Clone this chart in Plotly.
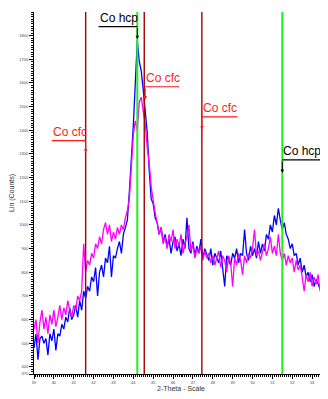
import numpy as np
import plotly.graph_objects as go

start_2theta = 39.0
step_2theta = 0.1

blue_counts = [
    480, 540, 430, 520, 530, 500, 520, 450, 540, 510,
    560, 470, 540, 530, 580, 560, 610, 590, 650, 600,
    620, 660, 610, 680, 640, 720, 690, 740, 720, 780,
    760, 820, 700, 800, 830, 780, 860, 840, 910, 780,
    870, 860, 900, 930, 880, 960, 990, 1020, 1140, 1260,
    1420, 1600, 1780, 1690, 1650, 1570, 1480, 1390, 1230, 1110,
    1090, 1030, 1010, 960, 990, 930, 960, 910, 940, 880,
    930, 950, 890, 920, 870, 940, 900, 1030, 900, 880,
    930, 870, 910, 880, 940, 860, 900, 870, 850, 900,
    830, 880, 860, 840, 890, 820, 740, 870, 850, 830,
    880, 860, 900, 840, 880, 870, 980, 880, 850, 910,
    870, 900, 860, 930, 880, 920, 890, 960, 940, 1000,
    970, 1040, 1000, 1070, 1020, 980, 1010, 960, 940, 900,
    920, 870, 880, 830, 860, 800, 830, 780, 800, 760,
    790, 740, 770, 750, 730, 760, 790, 750,
]

magenta_counts = [
    560, 600, 500, 590, 640, 560, 610, 540, 620, 580,
    640, 570, 610, 660, 600, 650, 620, 680, 640, 610,
    660, 640, 700, 680, 720, 920, 800, 850, 830, 880,
    860, 920, 900, 950, 920, 980, 1010, 960, 1000, 930,
    970, 940, 990, 960, 1000, 980, 1030, 1060, 1110, 1270,
    1380, 1440, 1400, 1520, 1540, 1480, 1430, 1330, 1260, 1160,
    1100, 1050, 1010, 960, 990, 920, 950, 900, 960, 930,
    980, 900, 940, 910, 960, 880, 920, 950, 1000, 890,
    920, 860, 900, 880, 910, 850, 890, 860, 880, 840,
    870, 830, 860, 890, 820, 870, 850, 800, 870, 840,
    740, 860, 830, 880, 850, 790, 870, 840, 880, 860,
    900, 980, 870, 890, 850, 880, 920, 870, 900, 950,
    880, 910, 870, 960, 880, 850, 880, 830, 870, 840,
    860, 800, 850, 810, 830, 780, 720, 790, 760, 800,
    740, 780, 750, 790, 720, 770, 700, 780,
]

y_tick_vals = [370, 400, 500, 600, 700, 800, 900, 1000, 1100, 1200,
               1300, 1400, 1500, 1600, 1700, 1800]
x_tick_vals = list(range(39, 54))

red_lines = [41.6, 44.55, 47.45]
green_lines = [44.2, 51.5]

# annotations: (text, colour, underline_left, underline_right, underline_y, drop_x, tip_y)
labels = [
    ("Co hcp", "black", 42.25, 44.2, 1838, 44.2, 1785),
    ("Co cfc", "#ff1a1a", 44.6, 46.3, 1584, 44.6, 1530),
    ("Co cfc", "#ff1a1a", 47.45, 49.25, 1457, 47.45, 1402),
    ("Co cfc", "#ff1a1a", 39.9, 41.6, 1356, 41.6, 1305),
    ("Co hcp", "black", 51.5, 53.5, 1275, 51.5, 1220),
]

x_vals = start_2theta + step_2theta * np.arange(len(blue_counts))
x_mag = start_2theta + step_2theta * np.arange(len(magenta_counts))

fig = go.Figure()
fig.add_trace(go.Scatter(x=x_vals, y=blue_counts, mode="lines",
                         line=dict(color="#0000ff", width=1.3), showlegend=False))
fig.add_trace(go.Scatter(x=x_mag, y=magenta_counts, mode="lines",
                         line=dict(color="#ff00ff", width=1.3), showlegend=False))

shapes = []
for xv in red_lines:
    shapes.append(dict(type="line", xref="x", yref="paper", x0=xv, x1=xv, y0=0, y1=1,
                       line=dict(color="#a50000", width=1.4), layer="above"))
for xv in green_lines:
    shapes.append(dict(type="line", xref="x", yref="paper", x0=xv, x1=xv, y0=0, y1=1,
                       line=dict(color="#22ee22", width=2), layer="above"))

annotations = []
for text, col, xl, xr, uy, dx, ty in labels:
    shapes.append(dict(type="line", xref="x", yref="y", x0=xl, x1=xr, y0=uy, y1=uy,
                       line=dict(color=col, width=1.2), layer="above"))
    annotations.append(dict(x=dx, y=ty, ax=dx, ay=uy, xref="x", yref="y", axref="x", ayref="y",
                            showarrow=True, arrowhead=2, arrowsize=0.7, arrowwidth=1,
                            arrowcolor=col, text=""))
    annotations.append(dict(x=xl, y=uy, xref="x", yref="y", text=text, showarrow=False,
                            xanchor="left", yanchor="bottom", yshift=0, xshift=-1,
                            font=dict(family="Liberation Sans, Arial", size=12, color=col)))

fig.update_layout(
    width=320, height=391,
    margin=dict(l=26, r=0, t=4, b=25, autoexpand=False),
    paper_bgcolor="white", plot_bgcolor="white",
    shapes=shapes, annotations=annotations,
    font=dict(family="Liberation Sans, Arial", color="#333333"),
)
fig.update_xaxes(
    range=[39, 53.8], showgrid=False, zeroline=False, automargin=False,
    showline=True, linecolor="black", linewidth=1,
    tickmode="array", tickvals=x_tick_vals, ticktext=[str(v) for v in x_tick_vals],
    ticks="outside", ticklen=4, tickcolor="black", tickfont=dict(size=4, color="#444444"),
    minor=dict(dtick=0.1, tick0=39, ticks="outside", ticklen=2, tickcolor="black"),
    title=dict(text="2-Theta - Scale", font=dict(size=7, color="#333333"), standoff=2),
)
fig.update_yaxes(
    range=[370, 1900], showgrid=False, zeroline=False, automargin=False,
    showline=True, linecolor="black", linewidth=1,
    tickmode="array", tickvals=y_tick_vals, ticktext=[str(v) for v in y_tick_vals],
    ticks="outside", ticklen=4, tickcolor="black", tickfont=dict(size=4, color="#444444"),
    minor=dict(dtick=10, tick0=0, ticks="outside", ticklen=2, tickcolor="black"),
    title=dict(text="Lin (Counts)", font=dict(size=7, color="#333333"), standoff=4),
)

fig.write_html("out.html")
